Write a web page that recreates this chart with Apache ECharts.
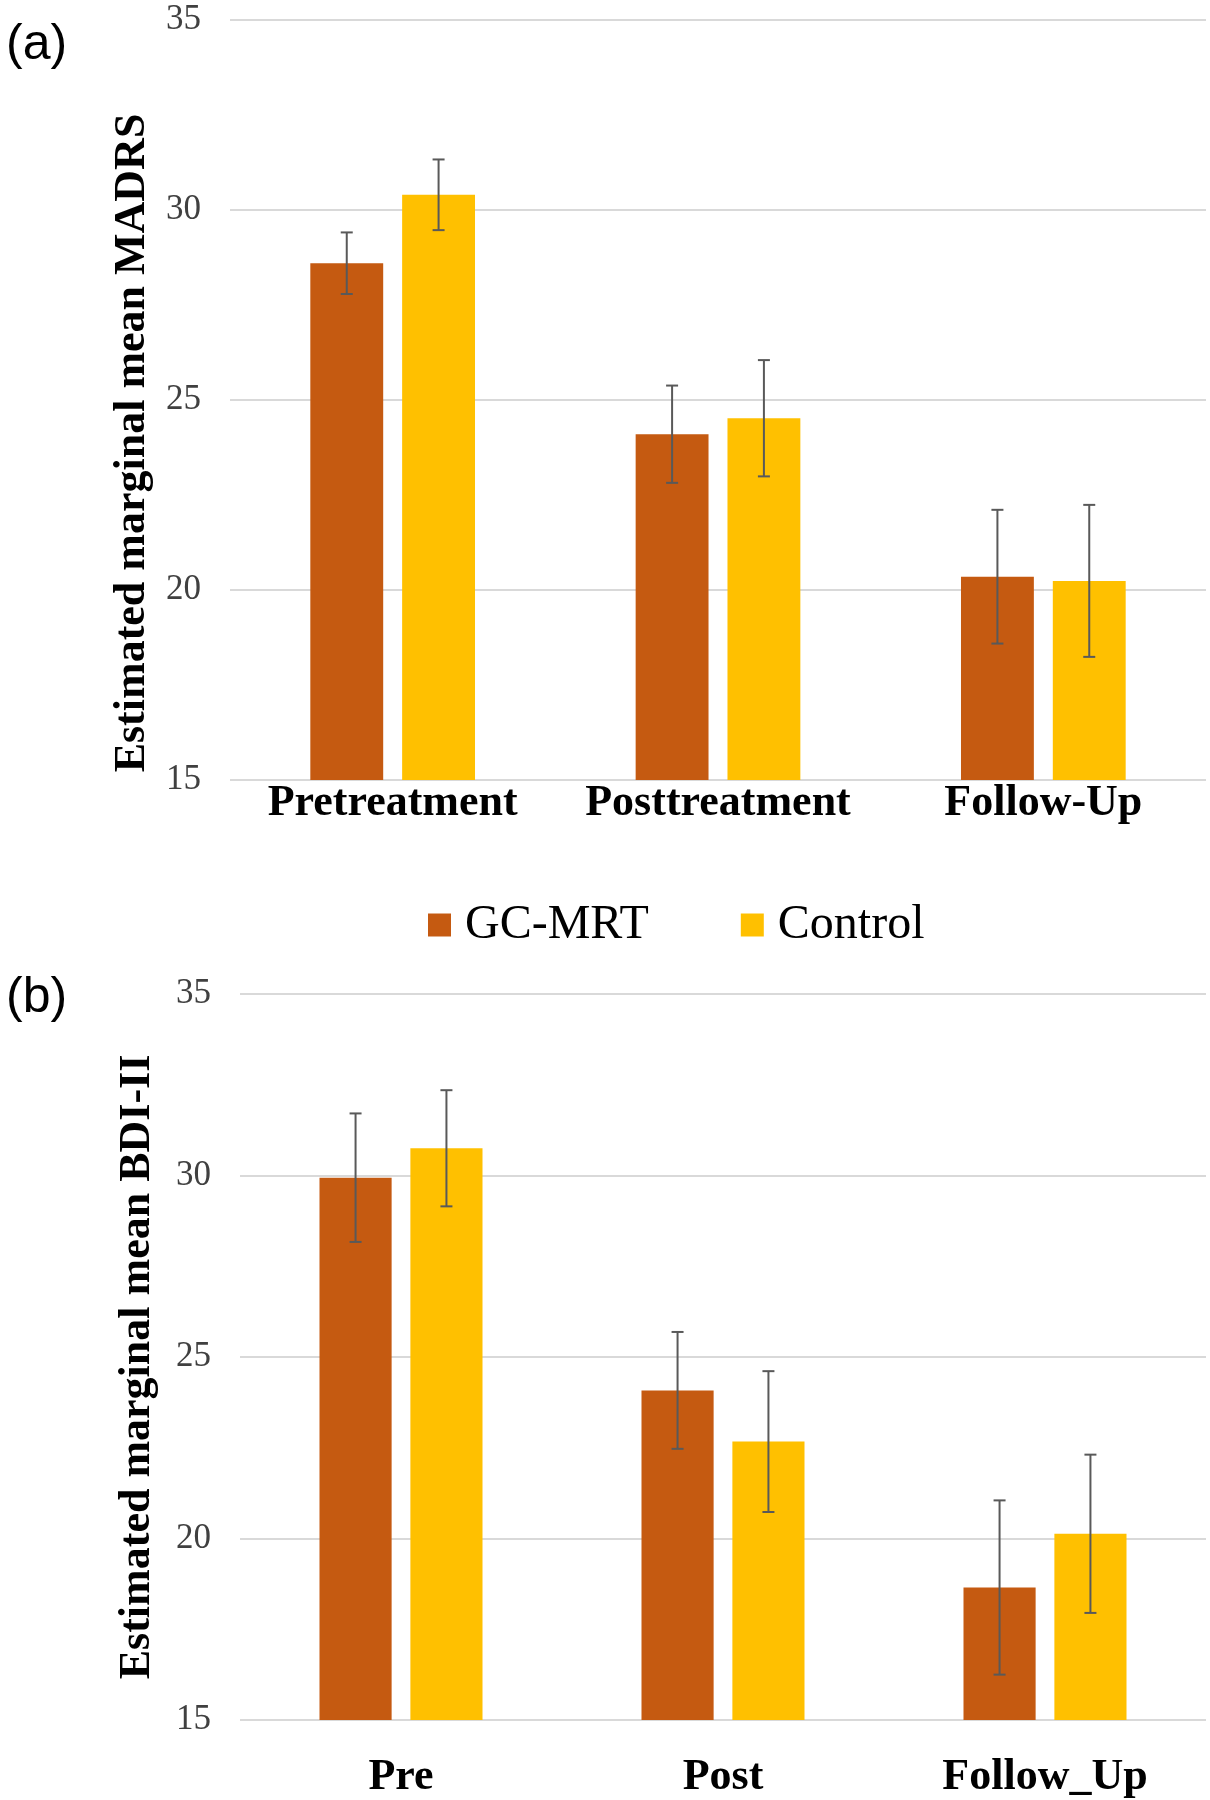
<!DOCTYPE html>
<html>
<head>
<meta charset="utf-8">
<script src="https://cdn.jsdelivr.net/npm/echarts@6/dist/echarts.min.js"></script>
<style>
    html, body { margin: 0; padding: 0; background: #fff; }
    #chart { width: 1210px; height: 1800px; }
</style>
</head>
<body>
<div id="chart"></div>
<script>
//数据
var catsA = ['Pretreatment', 'Posttreatment', 'Follow-Up'];
var catsB = ['Pre', 'Post', 'Follow_Up'];
var yTicks = [15, 20, 25, 30, 35];

var madrsGc = [28.6, 24.1, 20.35];
var madrsGcErr = [0.81, 1.28, 1.76];
var madrsCtrl = [30.4, 24.52, 20.24];
var madrsCtrlErr = [0.93, 1.53, 2.0];

var bdiGc = [29.94, 24.08, 18.65];
var bdiGcErr = [1.77, 1.61, 2.4];
var bdiCtrl = [30.75, 22.67, 20.13];
var bdiCtrlErr = [1.6, 1.94, 2.18];

var colorGc = '#C55A11',
    colorCtrl = '#FFC000',
    serif = 'Liberation Serif';

var BAR_W = 0.224, BAR_GAP = 0.26;

//误差线
function errSeries(name, idx, vals, errs, side) {
    var data = vals.map(function(v, i) {
        return [i, v, errs[i]];
    });
    return {
        name: name,
        type: 'custom',
        xAxisIndex: idx,
        yAxisIndex: idx,
        z: 5,
        data: data,
        renderItem: function(params, api) {
            var band = api.size([1, 0])[0];
            var bw = band * BAR_W;
            var off = side * bw * (1 + BAR_GAP) / 2;
            var top = api.coord([api.value(0), api.value(1) + api.value(2)]);
            var bot = api.coord([api.value(0), api.value(1) - api.value(2)]);
            var x = top[0] + off, cap = 6;
            var style = { stroke: '#595959', lineWidth: 2 };
            return {
                type: 'group',
                children: [
                    { type: 'line', shape: { x1: x, y1: top[1], x2: x, y2: bot[1] }, style: style },
                    { type: 'line', shape: { x1: x - cap, y1: top[1], x2: x + cap, y2: top[1] }, style: style },
                    { type: 'line', shape: { x1: x - cap, y1: bot[1], x2: x + cap, y2: bot[1] }, style: style }
                ]
            };
        }
    };
}

function xAxisOf(idx, cats, margin) {
    return {
        type: 'category',
        gridIndex: idx,
        data: cats,
        axisLine: { show: false },
        axisTick: { show: false },
        axisLabel: {
            interval: 0,
            margin: margin,
            color: '#000',
            fontFamily: serif,
            fontWeight: 'bold',
            fontSize: 44
        }
    };
}

function yAxisOf(idx, name, gap, shift) {
    return {
        type: 'value',
        gridIndex: idx,
        min: yTicks[0],
        max: yTicks[yTicks.length - 1],
        interval: 5,
        name: name,
        nameLocation: 'middle',
        nameRotate: 90,
        nameGap: gap,
        nameTextStyle: {
            color: '#000',
            fontFamily: serif,
            fontWeight: 'bold',
            fontSize: 44,
            padding: [0, shift, 0, 0]
        },
        axisLine: { show: false },
        axisTick: { show: false },
        axisLabel: {
            margin: 29,
            color: '#404040',
            fontFamily: serif,
            fontSize: 35
        },
        splitLine: { lineStyle: { color: '#d9d9d9', width: 2 } }
    };
}

function barSeries(name, idx, vals, color) {
    return {
        name: name,
        type: 'bar',
        xAxisIndex: idx,
        yAxisIndex: idx,
        data: vals,
        barWidth: (BAR_W * 100) + '%',
        barGap: (BAR_GAP * 100) + '%',
        itemStyle: { color: color },
        z: 2
    };
}

var chart = echarts.init(document.getElementById('chart'));

var tagStyle = { fontFamily: 'Liberation Sans', fontWeight: 'normal', fontSize: 50, color: '#000' };

chart.setOption({
    animation: false,
    backgroundColor: '#fff',
    title: [
        { text: '(a)', left: 6, top: 20, padding: 0, textStyle: tagStyle },
        { text: '(b)', left: 6, top: 973, padding: 0, textStyle: tagStyle }
    ],
    legend: {
        data: ['GC-MRT', 'Control'],
        left: 428,
        top: 901,
        padding: 0,
        icon: 'rect',
        itemWidth: 23,
        itemHeight: 23,
        itemGap: 92,
        textStyle: {
            fontFamily: serif,
            fontSize: 48,
            color: '#000',
            padding: [0, 0, 0, 9]
        }
    },
    grid: [
        { left: 230, right: 4, top: 20, bottom: 1020 },
        { left: 240, right: 4, top: 994, bottom: 78 }
    ],
    xAxis: [
        xAxisOf(0, catsA, 2),
        xAxisOf(1, catsB, 36)
    ],
    yAxis: [
        yAxisOf(0, 'Estimated marginal mean MADRS', 70, 86),
        yAxisOf(1, 'Estimated marginal mean BDI-II', 80, 20)
    ],
    series: [
        barSeries('GC-MRT', 0, madrsGc, colorGc),
        barSeries('Control', 0, madrsCtrl, colorCtrl),
        barSeries('GC-MRT', 1, bdiGc, colorGc),
        barSeries('Control', 1, bdiCtrl, colorCtrl),
        errSeries('errA1', 0, madrsGc, madrsGcErr, -1),
        errSeries('errA2', 0, madrsCtrl, madrsCtrlErr, 1),
        errSeries('errB1', 1, bdiGc, bdiGcErr, -1),
        errSeries('errB2', 1, bdiCtrl, bdiCtrlErr, 1)
    ]
});
</script>
</body>
</html>
